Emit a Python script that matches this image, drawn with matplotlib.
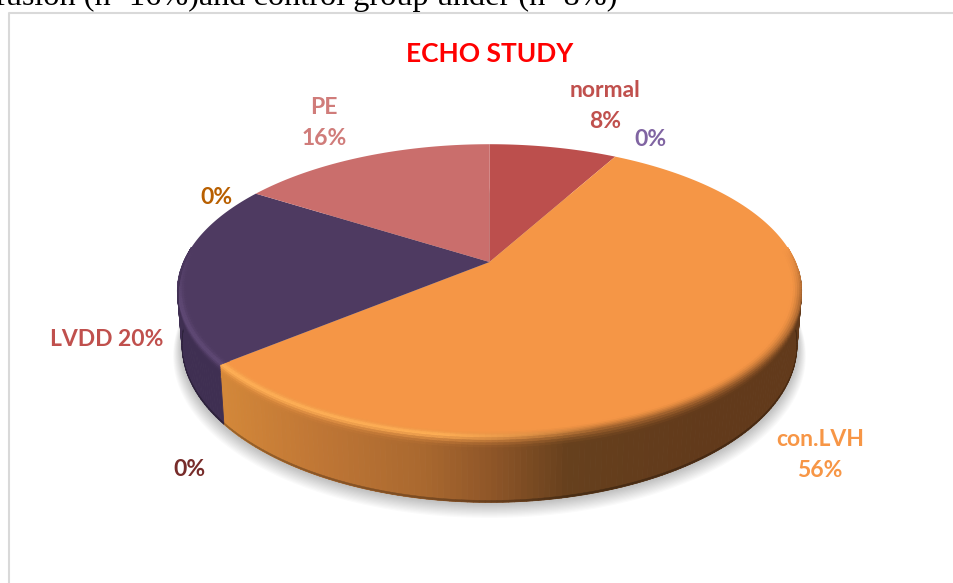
import matplotlib

matplotlib.use("Agg")
import matplotlib.pyplot as plt
import numpy as np
from matplotlib.collections import PolyCollection
from matplotlib.colors import LinearSegmentedColormap, to_rgb

plt.rcParams["font.family"] = ["Lato", "DejaVu Sans"]

CATEGORIES = ["normal", "con.LVH", "LVDD", "PE"]
VALUES = [8, 56, 20, 16]
TITLE = "ECHO STUDY"
CAPTION = "fusion (n=16%)and control group under (n=8%)"
TOP_COLORS = ["#BC4F4D", "#F59646", "#4E3A61", "#CA6E6C"]
WALL_COLORS = ["#8A3A38", None, "#3F2F52", "#964F4E"]
LABEL_TEXTS = ["normal\n8%", "0%", "con.LVH\n56%", "0%", "LVDD 20%", "0%", "PE\n16%"]
LABEL_COLORS = ["#C0504D", "#8064A2", "#F79646", "#772C2A", "#C0504D", "#B85F00", "#D07C7A"]

# pie geometry in pixels
CX, CY = 489.5, 262
RX, RY = 306, 141
TILT = 0.197
DEPTH = 52

orange_wall = LinearSegmentedColormap.from_list(
    "orange_wall",
    [(0.0, "#D38739"), (0.2, "#BF7635"), (0.42, "#A9682F"), (0.56, "#8F5628"), (0.72, "#66401D"), (1.0, "#623A1B")],
)


def project(theta, z=0.0, r=1.0):
    x = r * np.sin(theta)
    y = r * np.cos(theta)
    w = 1 + TILT * y
    return CX + RX * x / w * (1 - 0.015 * z), CY - RY * y / w + DEPTH * z / w


def wall_color(index, px):
    if index == 1:
        return np.array(orange_wall(np.clip((px - 222) / 480, 0, 1))[:3])
    return np.array(to_rgb(WALL_COLORS[index]))


def segments(i, edges):
    angles = np.linspace(edges[i], edges[i + 1], max(int(VALUES[i] * 4), 8))
    return zip(angles[:-1], angles[1:])


def quad(a0, a1, z0, z1, r0=1.0, r1=1.0):
    return [project(a0, z0, r0), project(a1, z0, r0), project(a1, z1, r1), project(a0, z1, r1)]


def draw_shadow(ax):
    theta = np.linspace(0, 2 * np.pi, 361)
    for step in np.linspace(1, 0, 14):
        px, py = project(theta, 1.0, 1.0 + 0.028 * step)
        ax.fill(px, py + 9 * step, color="#000000", alpha=0.018, lw=0, zorder=1)


def draw_walls(ax, edges):
    polys, colors, foot_polys, foot_colors = [], [], [], []
    for i in range(len(VALUES)):
        for a0, a1 in segments(i, edges):
            if np.cos((a0 + a1) / 2) > -0.05:
                continue
            wall = wall_color(i, project((a0 + a1) / 2)[0])
            polys.append(quad(a0, a1, 0.0, 1.0))
            colors.append(wall)
            foot_polys.append(quad(a0, a1, 0.97, 1.0))
            foot_colors.append(wall * 0.72)
    ax.add_collection(PolyCollection(polys, facecolors=colors, edgecolors=colors, linewidths=0.6, zorder=2))
    ax.add_collection(PolyCollection(foot_polys, facecolors=foot_colors, edgecolors=foot_colors, linewidths=0.3, zorder=2.1))


def draw_tops(ax, edges):
    for i in range(len(VALUES)):
        theta = np.linspace(edges[i], edges[i + 1], 200)
        px, py = project(theta)
        ax.fill(np.r_[CX, px], np.r_[CY, py], color=TOP_COLORS[i], lw=0, zorder=3)


def draw_bevel(ax, edges):
    # rounded rim: blends the flat top into the wall, with a shine on the lit side
    polys, colors = [], []
    layers = np.linspace(0, 1, 11)
    for i in range(len(VALUES)):
        top = np.array(to_rgb(TOP_COLORS[i]))
        for a0, a1 in segments(i, edges):
            mid = (a0 + a1) / 2
            if np.cos(mid) > 0.1:
                continue
            mx = project(mid)[0]
            wall = wall_color(i, mx)
            shine = np.clip((600 - mx) / 160, 0, 1)
            fade = np.clip((0.1 - np.cos(mid)) / 0.35, 0, 1)
            for t0, t1 in zip(layers[:-1], layers[1:]):
                r0, z0 = 0.968 + 0.032 * min(t0 * 2, 1), 0.2 * max(t0 * 2 - 1, 0)
                r1, z1 = 0.968 + 0.032 * min(t1 * 2, 1), 0.2 * max(t1 * 2 - 1, 0)
                t = (t0 + t1) / 2
                blend = t * t * (3 - 2 * t) * fade
                bump = np.exp(-((t - 0.42) / 0.2) ** 2) * shine * fade
                color = top * (1 - blend) + wall * blend
                color = color + (np.minimum(top * 1.12 + 0.03, 1) - color) * bump
                polys.append(quad(a0, a1, z0 * fade, z1 * fade, r0, r1))
                colors.append(np.clip(color, 0, 1))
    ax.add_collection(PolyCollection(polys, facecolors=colors, edgecolors=colors, linewidths=0.4, zorder=4))


def main():
    fig = plt.figure(figsize=(9.54, 5.83), dpi=100)
    ax = fig.add_axes([0, 0, 1, 1])
    ax.set_xlim(0, 954)
    ax.set_ylim(583, 0)
    ax.axis("off")

    ax.plot([9.5, 9.5, 954], [583, 13, 13], color="#D9D9D9", lw=1.5, zorder=1)
    ax.text(-5, 5, CAPTION, family="Liberation Serif", fontsize=23.2, color="black", va="baseline", clip_on=True)

    edges = 2 * np.pi * np.r_[0, np.cumsum(VALUES)] / np.sum(VALUES)
    draw_shadow(ax)
    draw_walls(ax, edges)
    draw_tops(ax, edges)
    draw_bevel(ax, edges)

    ax.text(490, 54, TITLE, color="#FF0000", fontsize=19, fontweight="bold", ha="center", va="center")
    label_xy = [(605, 106), (650, 139), (820, 455), (189, 470), (107, 339), (216, 198), (324, 123)]
    for text, color, (x, y) in zip(LABEL_TEXTS, LABEL_COLORS, label_xy):
        ax.text(x, y, text, color=color, fontsize=16.5, fontweight="bold", ha="center", va="center", linespacing=1.56)

    fig.savefig("out.png", dpi=100)
    plt.close(fig)


if __name__ == "__main__":
    main()
